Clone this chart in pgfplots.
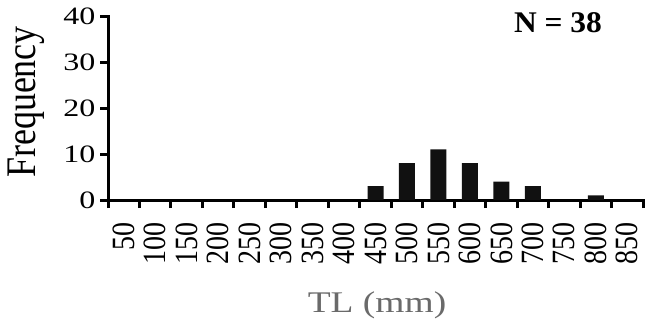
\documentclass[border=0pt]{standalone}
\usepackage{pgfplots}
\pgfplotsset{compat=1.18}
\usepackage{fontspec}
\setmainfont{Liberation Serif}
\definecolor{barblack}{HTML}{111111}
\definecolor{labgray}{HTML}{6A6A6A}
\begin{document}
\begin{tikzpicture}
\useasboundingbox (0pt,0pt) rectangle (645pt,330pt);
\begin{axis}[
  at={(108pt,130pt)}, anchor=south west,
  scale only axis, width=535pt, height=184pt,
  xmin=0, xmax=17, ymin=0, ymax=40,
  axis lines=left, axis line style={-, line width=3pt, line cap=rect},
  tick align=outside, major tick length=8pt,
  tick style={line width=3pt, black},
  xtick={0,1,...,17}, x tick label as interval,
  xticklabels={50,100,150,200,250,300,350,400,450,500,550,600,650,700,750,800,850},
  ytick={0,10,20,30,40},
  /pgf/number format/assume math mode=true,
  yticklabel style={font=\fontsize{25}{25}\selectfont, xscale=1.28},
  xticklabel style={font=\fontsize{28}{28}\selectfont, xscale=1.16, rotate=90, anchor=east, inner xsep=14pt},
  ybar, bar width=16pt,
  clip=false,
]
\addplot[fill=barblack, draw=none] coordinates {
(0.5,0) (1.5,0) (2.5,0) (3.5,0) (4.5,0) (5.5,0) (6.5,0) (7.5,0)
(8.5,3) (9.5,8) (10.5,11) (11.5,8) (12.5,4) (13.5,3) (14.5,0) (15.5,1) (16.5,0)};
\end{axis}
\node[font=\fontsize{36}{36}\selectfont, xscale=1.17, rotate=90, anchor=base] at (35pt,228pt) {Frequency};
\node[font=\fontsize{30}{30}\selectfont, text=labgray, xscale=1.25, anchor=base] at (377pt,18pt) {TL (mm)};
\node[font=\fontsize{30}{30}\selectfont\bfseries, xscale=1.05, anchor=base] at (558pt,297pt) {N = 38};
\end{tikzpicture}
\end{document}
